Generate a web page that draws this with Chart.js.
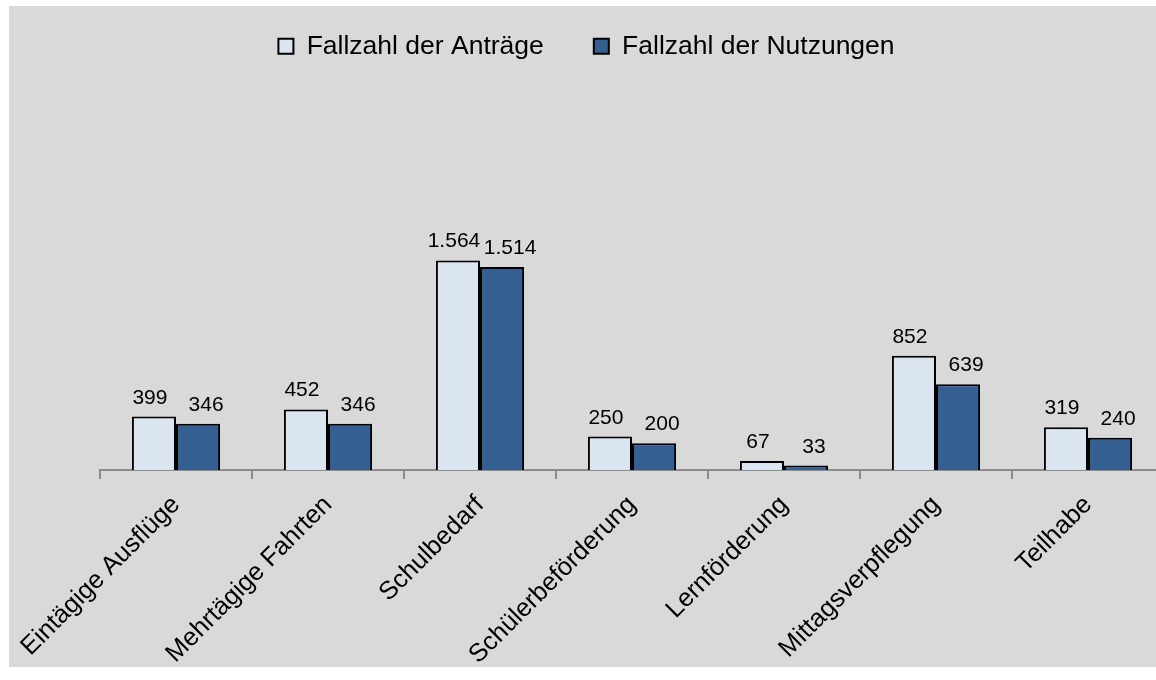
<!DOCTYPE html>
<html lang="de">
<head>
<meta charset="utf-8">
<script src="https://cdn.jsdelivr.net/npm/chart.js@4.4.1/dist/chart.umd.min.js"></script>
<style>
html,body{margin:0;padding:0;background:#fff;overflow:hidden;width:1156px;height:680px;}
#chartBox{position:absolute;left:9px;top:6px;width:1155px;height:661px;background:#d9d9d9;}
</style>
</head>
<body>
<div id="chartBox"><canvas id="fallzahlen" width="1155" height="661"></canvas></div>
<script>
const kategorien = [
    "Eintägige Ausflüge",
    "Mehrtägige Fahrten",
    "Schulbedarf",
    "Schülerbeförderung",
    "Lernförderung",
    "Mittagsverpflegung",
    "Teilhabe"
];
const antraege = [399, 452, 1564, 250, 67, 852, 319];
const nutzungen = [346, 346, 1514, 200, 33, 639, 240];
const serienNamen = ["Fallzahl der Anträge", "Fallzahl der Nutzungen"];
const achseMax = 2000;

const schrift = "'Liberation Sans', Arial, sans-serif";
// Excel setzt die Werte leicht nach aussen versetzt
const versatzX = [-4, 8];

function formatZahl(v) {
    return String(v).replace(/\B(?=(\d{3})+(?!\d))/g, ".");
}

const werteBeschriftung = {
    id: "werteBeschriftung",
    afterDatasetsDraw(chart) {
        const ctx = chart.ctx;
        ctx.save();
        ctx.font = "21px " + schrift;
        ctx.fillStyle = "#000";
        ctx.textAlign = "center";
        ctx.textBaseline = "alphabetic";
        chart.data.datasets.forEach((ds, i) => {
            const meta = chart.getDatasetMeta(i);
            meta.data.forEach((bar, j) => {
                ctx.fillText(formatZahl(ds.data[j]), bar.x + versatzX[i], bar.y - 13);
            });
        });
        ctx.restore();
    }
};

// Platz zwischen Legende und Diagrammfläche
const legendeAbstand = {
    id: "legendeAbstand",
    beforeInit(chart) {
        const fitAlt = chart.legend.fit;
        chart.legend.fit = function () {
            fitAlt.call(this);
            this.height = 219;
        };
    }
};

new Chart(document.getElementById("fallzahlen"), {
    type: "bar",
    data: {
        labels: kategorien,
        datasets: [
            {
                label: serienNamen[0],
                data: antraege,
                backgroundColor: "#dbe5f1",
                borderColor: "#000",
                borderWidth: 2,
                categoryPercentage: 0.58,
                barPercentage: 1
            },
            {
                label: serienNamen[1],
                data: nutzungen,
                backgroundColor: "#365f91",
                borderColor: "#000",
                borderWidth: 2,
                categoryPercentage: 0.58,
                barPercentage: 1
            }
        ]
    },
    options: {
        responsive: false,
        animation: false,
        layout: { padding: { top: -23, left: 0, right: 0, bottom: 0 } },
        plugins: {
            legend: {
                position: "top",
                labels: {
                    boxWidth: 15,
                    boxHeight: 15,
                    padding: 50,
                    color: "#000",
                    font: { size: 26.5, family: schrift }
                }
            },
            tooltip: { enabled: false }
        },
        scales: {
            x: {
                grid: {
                    display: true,
                    drawOnChartArea: false,
                    drawTicks: true,
                    tickLength: 9,
                    color: "#8c8c8c",
                    lineWidth: 2,
                    offset: true
                },
                border: { display: true, color: "#8c8c8c", width: 2 },
                ticks: {
                    color: "#000",
                    font: { size: 25.5, family: schrift },
                    minRotation: 45,
                    maxRotation: 45,
                    padding: 11,
                    autoSkip: false
                },
                afterFit(s) {
                    s.height = 197;
                    s.paddingLeft = 0;
                    s.paddingRight = 0;
                }
            },
            y: {
                min: 0,
                max: achseMax,
                display: true,
                grid: { display: false },
                border: { display: false },
                ticks: { display: false },
                afterFit(s) { s.width = 91; }
            }
        }
    },
    plugins: [werteBeschriftung, legendeAbstand]
});
</script>
</body>
</html>
